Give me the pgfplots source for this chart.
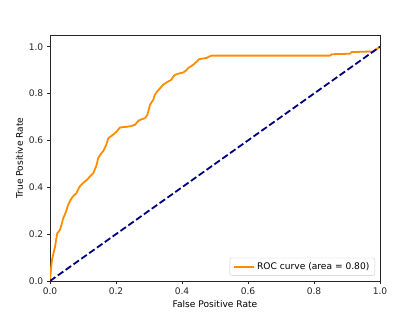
\documentclass[border=0pt]{standalone}
\usepackage{pgfplots}
\pgfplotsset{compat=1.18}
\usepackage{fontspec}
\setmainfont{DejaVu Sans}
\definecolor{rocorange}{RGB}{255,140,0}
\definecolor{navyc}{RGB}{0,0,128}
\begin{document}
\begin{tikzpicture}
\useasboundingbox (-50pt,-31pt) rectangle (369pt,281pt);
\begin{axis}[
  at={(0pt,0pt)}, anchor=south west,
  scale only axis, width=330pt, height=246pt,
  xmin=0, xmax=1, ymin=0, ymax=1.05,
  xtick={0,0.2,0.4,0.6,0.8,1.0},
  ytick={0,0.2,0.4,0.6,0.8,1.0},
  /pgf/number format/assume math mode=true,
  /pgf/number format/.cd, fixed, fixed zerofill, precision=1, /pgfplots/.cd,
  tick label style={font=\fontsize{9.1}{11}\selectfont, text=black!85},
  label style={font=\fontsize{9.1}{11}\selectfont},
  xlabel={False Positive Rate}, ylabel={True Positive Rate},
  xlabel style={yshift=1pt},
  ylabel style={yshift=-1pt},
  tick align=outside, major tick length=3.2pt,
  tick style={black!85, line width=0.7pt},
  xtick pos=bottom, ytick pos=left,
  axis line style={black!85, line width=0.7pt},
  legend style={at={(0.985,0.022)}, anchor=south east, draw=black!20, rounded corners=2pt,
    fill=white, fill opacity=0.8, text opacity=1, font=\fontsize{9.1}{11}\selectfont,
    inner xsep=3.5pt, inner ysep=2.5pt},
  legend cell align=left,
  legend image code/.code={\draw[#1] (0pt,0pt) -- (20pt,0pt);},
]
\addplot[rocorange, line width=1.8pt, line join=round] coordinates {
(0,0) (0.003,0.05) (0.006,0.09) (0.010,0.115) (0.015,0.145) (0.019,0.18) (0.022,0.204) (0.027,0.212) (0.030,0.218)
(0.035,0.24) (0.040,0.268) (0.047,0.29) (0.055,0.325) (0.062,0.345) (0.069,0.36) (0.080,0.375)
(0.090,0.403) (0.100,0.418) (0.112,0.432) (0.121,0.446) (0.131,0.46) (0.140,0.49) (0.146,0.524)
(0.152,0.538) (0.162,0.556) (0.170,0.58) (0.177,0.61) (0.187,0.62) (0.197,0.631) (0.205,0.643) (0.212,0.655)
(0.222,0.657) (0.232,0.658) (0.245,0.661) (0.258,0.667) (0.265,0.68) (0.273,0.688) (0.288,0.695)
(0.295,0.709) (0.300,0.735) (0.303,0.752) (0.313,0.774) (0.318,0.795) (0.325,0.809) (0.333,0.822) (0.343,0.838)
(0.355,0.849) (0.368,0.859) (0.373,0.872) (0.379,0.880) (0.392,0.886) (0.404,0.890) (0.412,0.898) (0.419,0.909)
(0.434,0.923) (0.445,0.937) (0.452,0.947) (0.475,0.952) (0.482,0.958) (0.490,0.962) (0.848,0.962)
(0.855,0.968) (0.909,0.970) (0.914,0.977) (0.980,0.980) (0.990,0.99) (1,1)
};
\addlegendentry{ROC curve (area = 0.80)}
\addplot[navyc, line width=1.8pt, dash pattern=on 6.7pt off 2.9pt, forget plot] coordinates {(0,0) (1,1)};
\end{axis}
\end{tikzpicture}
\end{document}
